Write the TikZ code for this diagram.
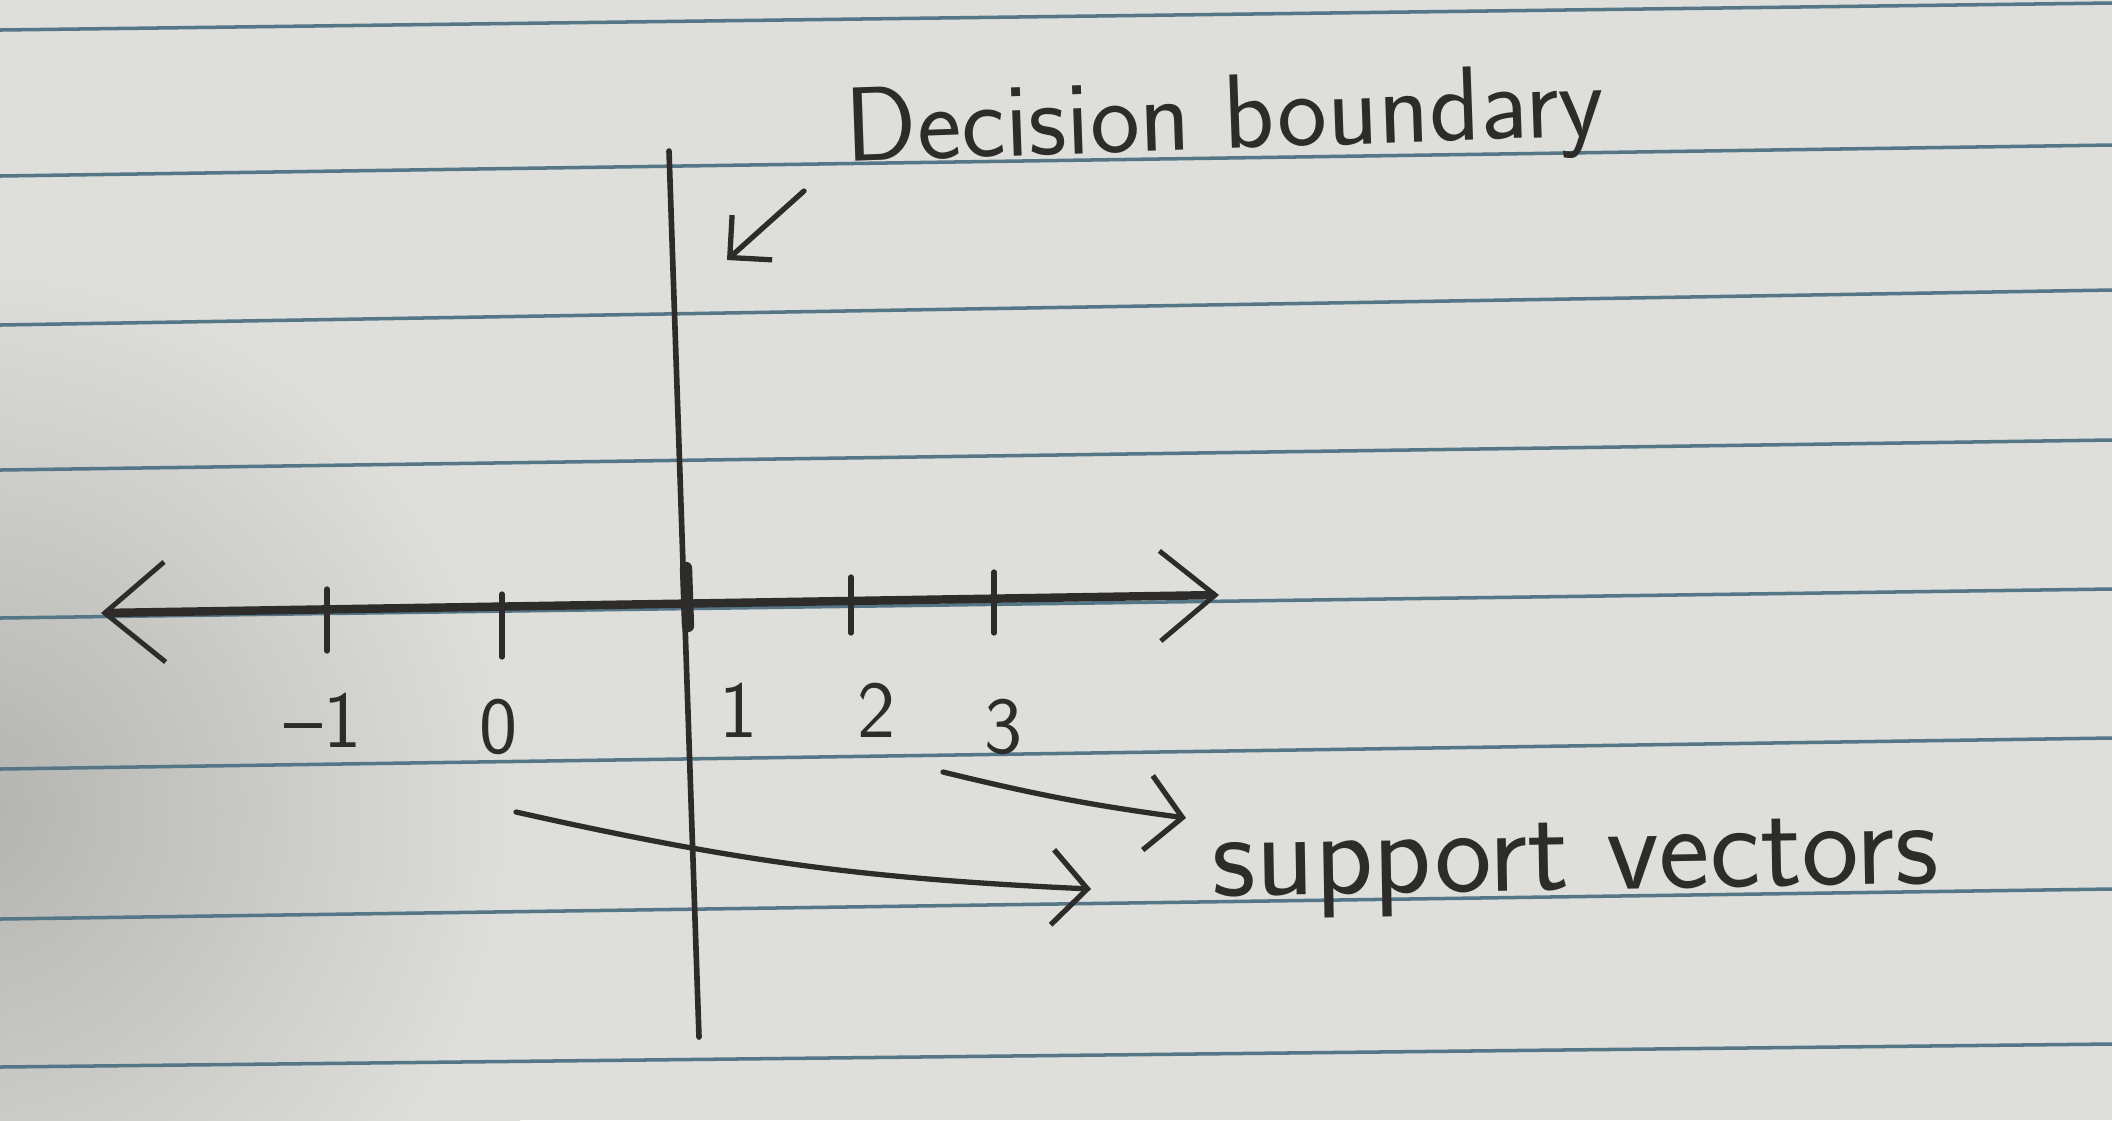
\documentclass[tikz,border=0pt]{standalone}
\usepackage{amsmath}
\usepackage{tikz}
\usetikzlibrary{arrows.meta}

\definecolor{paper}{RGB}{222,222,218}
\definecolor{paperdark}{RGB}{178,178,174}
\definecolor{ruling}{RGB}{84,118,134}
\definecolor{ink}{RGB}{46,43,43}

\begin{document}
\begin{tikzpicture}[x=0.01cm, y=-0.01cm, line cap=round, line join=round]
    \tikzstyle{pen}=[draw=ink, line width=1.5pt]
    \tikzstyle{axis line}=[pen, line width=2.4pt, {Straight Barb[length=6mm,width=10mm,line width=1.4pt]}-{Straight Barb[length=5.5mm,width=9mm,line width=1.4pt]}]
    \tikzstyle{pointer}=[pen, -{Straight Barb[length=3.5mm,width=7.5mm]}]
    \tikzstyle{small pointer}=[pen, -{Straight Barb[length=3mm,width=6mm]}]
    \tikzstyle{tick label}=[text=ink, font=\sffamily\fontsize{23}{27}\selectfont, inner sep=0pt]
    \tikzstyle{annot}=[text=ink, inner sep=0pt, anchor=base west]
    \tikzstyle{rule line}=[draw=ruling, line width=1pt]

    % Paper, shadow and ruling
    \fill[paper] (0,0) rectangle (2112,1120);
    \useasboundingbox (0,0) rectangle (2112,1120);
    \begin{scope}
        \clip (0,0) rectangle (2112,1120);
        \shade[inner color=paperdark, outer color=paper] (-600,260) rectangle (520,1360);
    \end{scope}
    \foreach \l/\r in {30/3,176/145,325/290,470/440,618/589,769/738,919/889,1067/1044}
        \draw[rule line] (0,\l) -- (2112,\r);

    % Axis and decision boundary
    \coordinate (ax-l) at (101,613);
    \coordinate (ax-r) at (1219,595);
    \coordinate (db-top) at (669,151);
    \coordinate (db-bot) at (699,1037);
    \draw[axis line] (ax-l) -- (ax-r);
    \draw[pen, line width=1.6pt] (db-top) -- (db-bot);

    % Tick marks
    \foreach \x/\t/\b in {327/589/651, 502/594/657, 851/577/633, 994/572/633}
        \draw[pen] (\x,\t) -- (\x,\b);
    \draw[pen, line width=3.5pt] (686,568) -- (688,626);

    % Tick labels
    \foreach \name/\x/\y/\t in {m1/323/720/--1, 0/498/727/0, 1/738/710/1, 2/876/710/2, 3/1003/727/3}
        \node[tick label] (L-\name) at (\x,\y) {\t};

    % Annotate the boundary
    \node[annot, font=\sffamily\fontsize{30}{36}\selectfont, rotate=2] (DB) at (846,162) {Decision boundary};
    \coordinate (db-ptr) at (727,260);
    \draw[small pointer] ([shift={(-42,29)}]DB.base west) -- (db-ptr);

    % Annotate the support vectors
    \node[annot, font=\sffamily\fontsize{34.5}{40}\selectfont, rotate=1] (SV) at (1212,896) {support vectors};
    \coordinate (sv-a) at (943,772);
    \coordinate (sv-b) at (516,812);
    \draw[pointer] (sv-a) to[bend right=3] ([shift={(-26,-78)}]SV.base west);
    \draw[pointer] (sv-b) to[bend right=5] ([shift={(-121,-7)}]SV.base west);
\end{tikzpicture}
\end{document}
